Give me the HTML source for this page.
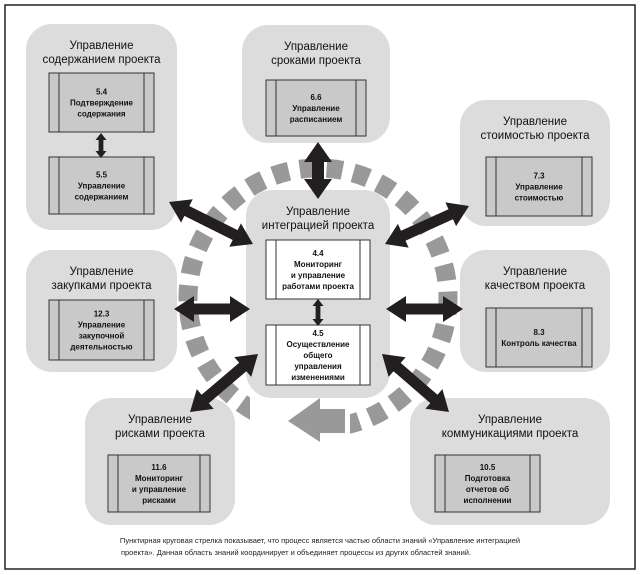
<!DOCTYPE html>
<html><head><meta charset="utf-8"><style>
body{margin:0;background:#fff;}
svg{display:block;}
text{font-family:"Liberation Sans","DejaVu Sans",sans-serif;text-anchor:middle;}
.h{font-size:11.5px;fill:#111;}
.s{font-size:8px;font-weight:bold;fill:#111;}
.c{font-size:7.5px;fill:#222;font-family:"Liberation Sans Narrow","Liberation Sans",sans-serif;}
</style></head><body>
<svg id="s" width="640" height="575" viewBox="0 0 640 575" xmlns="http://www.w3.org/2000/svg">
<rect x="5" y="5" width="630" height="564" fill="#fff" stroke="#222" stroke-width="1.5"/>
<circle cx="318" cy="298" r="130" fill="none" stroke="#999" stroke-width="19" stroke-dasharray="16 11"/>
<rect x="250" y="396" width="100" height="45" fill="#fff"/>
<polygon points="288,421 320,398 320,409 345,409 345,433 320,433 320,442" fill="#999"/>
<g id="boxes"></g>
<g id="arrows"></g>
<text class="c" x="320" y="543">Пунктирная круговая стрелка показывает, что процесс является частью области знаний «Управление интеграцией</text>
<text class="c" x="296" y="555">проекта». Данная область знаний координирует и объединяет процессы из других областей знаний.</text>
</svg>
<script>
var NS="http://www.w3.org/2000/svg";
var B=document.getElementById('boxes'),A=document.getElementById('arrows');
function el(p,t,a,txt){var e=document.createElementNS(NS,t);for(var k in a)e.setAttribute(k,a[k]);if(txt)e.textContent=txt;p.appendChild(e);return e;}
function big(x,y,w,h,lines){el(B,'rect',{x:x,y:y,width:w,height:h,rx:26,fill:'#dcdcdd'});
 lines.forEach(function(l,i){el(B,'text',{class:'h',x:x+w/2,y:y+25+i*14},l);});}
function sub(x,y,w,h,lines,white){
 el(B,'rect',{x:x,y:y,width:w,height:h,fill:white?'#fff':'#c9c9ca',stroke:'#333','stroke-width':1});
 el(B,'line',{x1:x+10,y1:y,x2:x+10,y2:y+h,stroke:'#333','stroke-width':1});
 el(B,'line',{x1:x+w-10,y1:y,x2:x+w-10,y2:y+h,stroke:'#333','stroke-width':1});
 var n=lines.length,st=y+h/2-(n-1)*5.5+3;
 lines.forEach(function(l,i){el(B,'text',{class:'s',x:x+w/2,y:st+i*11},l);});}
big(26,24,151,206,['Управление','содержанием проекта']);
sub(49,73,105,59,['5.4','Подтверждение','содержания']);
sub(49,157,105,57,['5.5','Управление','содержанием']);
big(242,25,148,118,['Управление','сроками проекта']);
sub(266,80,100,56,['6.6','Управление','расписанием']);
big(460,100,150,126,['Управление','стоимостью проекта']);
sub(486,157,106,59,['7.3','Управление','стоимостью']);
big(460,250,150,122,['Управление','качеством проекта']);
sub(486,308,106,59,['8.3','Контроль качества']);
big(26,250,151,122,['Управление','закупками проекта']);
sub(49,300,105,60,['12.3','Управление','закупочной','деятельностью']);
big(85,398,150,127,['Управление','рисками проекта']);
sub(108,455,102,57,['11.6','Мониторинг','и управление','рисками']);
big(410,398,200,127,['Управление','коммуникациями проекта']);
sub(435,455,105,57,['10.5','Подготовка','отчетов об','исполнении']);
big(246,190,144,208,['Управление','интеграцией проекта']);
sub(266,240,104,59,['4.4','Мониторинг','и управление','работами проекта'],true);
sub(266,325,104,60,['4.5','Осуществление','общего','управления','изменениями'],true);
function dbl(x1,y1,x2,y2,sw,hw,hl){
 var dx=x2-x1,dy=y2-y1,L=Math.hypot(dx,dy),ux=dx/L,uy=dy/L,px=-uy,py=ux;
 function P(t,s){return (x1+ux*t+px*s).toFixed(1)+','+(y1+uy*t+py*s).toFixed(1);}
 var pts=[P(0,0),P(hl,hw),P(hl,sw),P(L-hl,sw),P(L-hl,hw),P(L,0),P(L-hl,-hw),P(L-hl,-sw),P(hl,-sw),P(hl,-hw)];
 el(A,'polygon',{points:pts.join(' '),fill:'#231f20'});}
dbl(169,202,253,244,5.5,13,20);
dbl(318,142,318,199,6,14,20);
dbl(469,206,385,244,5.5,13,20);
dbl(174,309,250,309,5.5,13,20);
dbl(386,309,463,309,5.5,13,20);
dbl(190,412,258,354,5.5,13,20);
dbl(382,354,449,412,5.5,13,20);
dbl(101,133,101,158,2.4,5.5,7);
dbl(318,299,318,326,2.4,5.5,7);
</script>
</body></html>
